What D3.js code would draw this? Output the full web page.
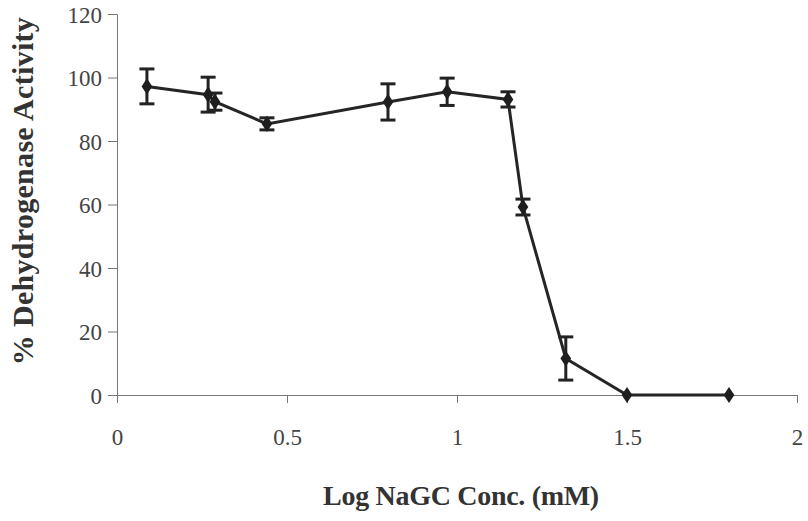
<!DOCTYPE html>
<html>
<head>
<meta charset="utf-8">
<script src="https://cdn.jsdelivr.net/npm/d3@7"></script>
<style>
  body { margin: 0; background: #fff; }
  .axis path, .axis line { stroke: #777; stroke-width: 1; }
  .axis text { font-family: "Liberation Serif", serif; font-size: 23px; fill: #444; }
  .title { font-family: "Liberation Serif", serif; font-weight: bold; fill: #333; }
</style>
</head>
<body>
<div class="chart"></div>
<script>
const margin = ({top: 14, right: 11, bottom: 126, left: 117})
const width = 808 - margin.left - margin.right;
const height = 521 - margin.top - margin.bottom;

// log concentration (mM), % activity, error (+/-)
const logConc = [0.088, 0.268, 0.288, 0.441, 0.797, 0.971, 1.15, 1.194, 1.32, 1.5, 1.8]
const activity = [97.2, 94.6, 92.4, 85.4, 92.3, 95.5, 93.1, 59.2, 11.5, 0, 0]
const errors = [5.5, 5.5, 2.7, 1.9, 5.7, 4.3, 2.4, 2.5, 6.8, 0, 0]
const xTicks = [0, 0.5, 1, 1.5, 2]
const yTicks = [0, 20, 40, 60, 80, 100, 120]

const data = logConc.map((x, i) => ({x: x, y: activity[i], e: errors[i]}))

const svg = d3.select('.chart').append('svg')
    .attr("width", width + margin.left + margin.right)
    .attr("height", height + margin.top + margin.bottom)
    .append("g")
    .attr("transform", "translate(" + margin.left + "," + margin.top + ")");

const xScale = d3.scaleLinear()
    .domain([0, 2])
    .range([0, width])

const yScale = d3.scaleLinear()
    .domain([0, 120])
    .range([height, 0])

const xAxis = d3.axisBottom(xScale)
    .tickValues(xTicks)
    .tickFormat(d3.format("~g"))
    .tickSize(8)
    .tickPadding(26)
    .tickSizeOuter(0)

const yAxis = d3.axisLeft(yScale)
    .tickValues(yTicks)
    .tickSize(9)
    .tickPadding(6)
    .tickSizeOuter(0)

svg.append("g")
    .attr("class", "axis x-axis")
    .attr("transform", `translate(0, ${height})`)
    .call(xAxis);

svg.append("g")
    .attr("class", "axis y-axis")
    .call(yAxis)
    .selectAll("text").attr("dy", "0.35em");

// error bars
const cap = 7.5
const bars = svg.selectAll('.err')
    .data(data.filter(d => d.e > 0))
    .enter()
    .append('g')
    .attr('class', 'err')
    .style('stroke', '#222')
    .style('stroke-width', 3)

bars.append('line')
    .attr('x1', d => xScale(d.x)).attr('x2', d => xScale(d.x))
    .attr('y1', d => yScale(d.y + d.e)).attr('y2', d => yScale(d.y - d.e))
bars.append('line')
    .attr('x1', d => xScale(d.x) - cap).attr('x2', d => xScale(d.x) + cap)
    .attr('y1', d => yScale(d.y + d.e)).attr('y2', d => yScale(d.y + d.e))
bars.append('line')
    .attr('x1', d => xScale(d.x) - cap).attr('x2', d => xScale(d.x) + cap)
    .attr('y1', d => yScale(d.y - d.e)).attr('y2', d => yScale(d.y - d.e))

const line = d3.line()
    .x(d => xScale(d.x))
    .y(d => yScale(d.y))

svg.append('path')
    .datum(data)
    .attr('d', line)
    .style('fill', 'none')
    .style('stroke', '#252525')
    .style('stroke-width', 3)

svg.selectAll('.pt')
    .data(data)
    .enter()
    .append('path')
    .attr('class', 'pt')
    .attr('d', d3.symbol().type(d3.symbolDiamond).size(75))
    .attr('transform', d => `translate(${xScale(d.x)},${yScale(d.y)}) scale(1.15,1)`)
    .style('fill', '#1e1e1e')

svg.append('text')
    .attr('class', 'title')
    .attr('x', 461 - margin.left)
    .attr('y', height + 110)
    .style('font-size', '28px')
    .style('letter-spacing', '-0.3px')
    .style('text-anchor', 'middle')
    .text("Log NaGC Conc. (mM)")

svg.append('text')
    .attr('class', 'title')
    .attr('transform', `translate(${33 - margin.left}, ${191 - margin.top}) rotate(-90)`)
    .style('font-size', '30px')
    .style('letter-spacing', '0.3px')
    .style('text-anchor', 'middle')
    .text("% Dehydrogenase Activity")
</script>
</body>
</html>
